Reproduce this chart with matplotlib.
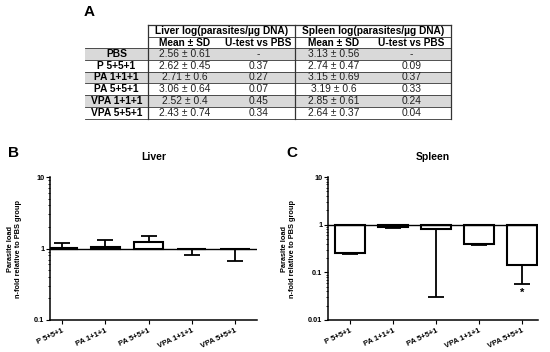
import numpy as np
import matplotlib
matplotlib.use("Agg")
import matplotlib.pyplot as plt
from matplotlib.patches import Rectangle
from matplotlib.ticker import FuncFormatter, NullFormatter, LogLocator

plt.rcParams['font.family'] = ['Liberation Sans', 'DejaVu Sans']

# table data (panel A)
groups = ["PBS", "P 5+5+1", "PA 1+1+1", "PA 5+5+1", "VPA 1+1+1", "VPA 5+5+1"]
liver_mean = [2.56, 2.62, 2.71, 3.06, 2.52, 2.43]
liver_sd = [0.61, 0.45, 0.6, 0.64, 0.4, 0.74]
liver_p = [None, 0.37, 0.27, 0.07, 0.45, 0.34]
spleen_mean = [3.13, 2.74, 3.15, 3.19, 2.85, 2.64]
spleen_sd = [0.56, 0.47, 0.69, 0.6, 0.61, 0.37]
spleen_p = [None, 0.09, 0.37, 0.33, 0.24, 0.04]

# bar data (panels B, C): n-fold relative to PBS
treat = groups[1:]
liver_fold = [1.02, 1.05, 1.23, 0.99, 0.97]
liver_err_lo = [0, 0, 0, 0.17, 0.31]
liver_err_hi = [0.18, 0.26, 0.26, 0, 0]
spleen_fold = [0.26, 0.89, 0.80, 0.387, 0.145]
spleen_err_lo = [0.013, 0.025, 0.769, 0.012, 0.089]
spleen_err_hi = [0, 0, 0, 0, 0]

fig = plt.figure(figsize=(5.5, 3.52), dpi=100)

# ---- panel A: table drawn in pixel coords
tab = fig.add_axes([0, 0, 1, 1])
tab.set_xlim(0, 550)
tab.set_ylim(352, 0)
tab.axis("off")

cols = [85, 148, 222, 295, 372, 451]
row_top = 48
row_h = 11.8
lc = "#333333"

tab.text(84, 12, "A", fontsize=11, fontweight="bold", va="center", ha="left")

# header
tab.plot([148, 451], [25, 25], color=lc, lw=0.9)
tab.plot([148, 451], [37, 37], color=lc, lw=0.6)
tab.text((cols[1] + cols[3]) / 2, 31.5, "Liver log(parasites/µg DNA)", fontsize=7.3,
         fontweight="bold", ha="center", va="center")
tab.text((cols[3] + cols[5]) / 2, 31.5, "Spleen log(parasites/µg DNA)", fontsize=7.3,
         fontweight="bold", ha="center", va="center")
for i, h in enumerate(["Mean ± SD", "U-test vs PBS", "Mean ± SD", "U-test vs PBS"]):
    tab.text((cols[i + 1] + cols[i + 2]) / 2, 42.8, h, fontsize=7.3,
             fontweight="bold", ha="center", va="center")

for r, g in enumerate(groups):
    y0 = row_top + r * row_h
    if r % 2 == 0:
        tab.add_patch(Rectangle((cols[0], y0), cols[-1] - cols[0], row_h,
                                facecolor="#d9d9d9", edgecolor="none", zorder=0))
    yc = y0 + row_h / 2
    tab.text((cols[0] + cols[1]) / 2, yc, g, fontsize=7.4, fontweight="bold",
             ha="center", va="center")
    vals = [f"{liver_mean[r]} ± {liver_sd[r]}",
            "-" if liver_p[r] is None else f"{liver_p[r]}",
            f"{spleen_mean[r]} ± {spleen_sd[r]}",
            "-" if spleen_p[r] is None else f"{spleen_p[r]}"]
    for i, v in enumerate(vals):
        tab.text((cols[i + 1] + cols[i + 2]) / 2, yc, v, fontsize=7.4,
                 color="#222222", ha="center", va="center")
    tab.plot([cols[0], cols[-1]], [y0, y0], color=lc, lw=0.6)
y_end = row_top + len(groups) * row_h
tab.plot([cols[0], cols[-1]], [y_end, y_end], color=lc, lw=0.6)
for xv in [148, 295, 451]:
    tab.plot([xv, xv], [25, y_end], color=lc, lw=0.9)


def bar_panel(ax, fold, lo, hi, ylim, title, xlim):
    x = np.arange(len(treat))
    fold = np.array(fold)
    ax.bar(x, fold - 1, bottom=1, width=0.68, color="white", edgecolor="black",
           linewidth=1.5, zorder=2)
    ax.errorbar(x, fold, yerr=[lo, hi], fmt="none", ecolor="black",
                elinewidth=1.3, capsize=5.5, capthick=1.3, zorder=3)
    ax.set_yscale("log")
    ax.set_ylim(*ylim)
    ax.set_xlim(*xlim)
    ax.axhline(1, color="black", lw=1.0, zorder=4)
    ax.spines["top"].set_visible(False)
    ax.spines["right"].set_visible(False)
    ax.spines["left"].set_linewidth(1.1)
    ax.spines["bottom"].set_linewidth(1.1)
    ax.yaxis.set_major_formatter(FuncFormatter(lambda v, p: f"{v:g}"))
    ax.yaxis.set_minor_locator(LogLocator(base=10, subs=np.arange(2, 10)))
    ax.yaxis.set_minor_formatter(NullFormatter())
    ax.tick_params(axis="y", which="major", length=3, width=0.8, labelsize=5.3, pad=1)
    ax.tick_params(axis="y", which="minor", length=1.5, width=0.6)
    ax.set_xticks(x)
    ax.set_xticklabels(treat, rotation=25, ha="right", fontsize=5.5, fontweight="bold",
                       rotation_mode="anchor")
    ax.tick_params(axis="x", length=3, width=0.8, pad=2)
    for lab in ax.get_yticklabels():
        lab.set_fontweight("bold")
    ax.set_ylabel("Parasite load\nn-fold relative to PBS group", fontsize=5.3,
                  fontweight="bold", labelpad=9)
    ax.set_title(title, fontsize=7.5, fontweight="bold", pad=12)


axB = fig.add_axes([50 / 550, 32 / 352, 207 / 550, 143 / 352])
bar_panel(axB, liver_fold, liver_err_lo, liver_err_hi, (0.1, 10), "Liver", (-0.28, 4.51))

axC = fig.add_axes([328 / 550, 32 / 352, 210 / 550, 143 / 352])
bar_panel(axC, spleen_fold, spleen_err_lo, spleen_err_hi, (0.01, 10), "Spleen", (-0.51, 4.37))
axC.text(4, 0.037, "*", fontsize=8, fontweight="bold", ha="center", va="center")

tab.text(8, 153, "B", fontsize=11, fontweight="bold", va="center", ha="left")
tab.text(286, 153, "C", fontsize=11, fontweight="bold", va="center", ha="left")

fig.savefig("out.png", dpi=100)
